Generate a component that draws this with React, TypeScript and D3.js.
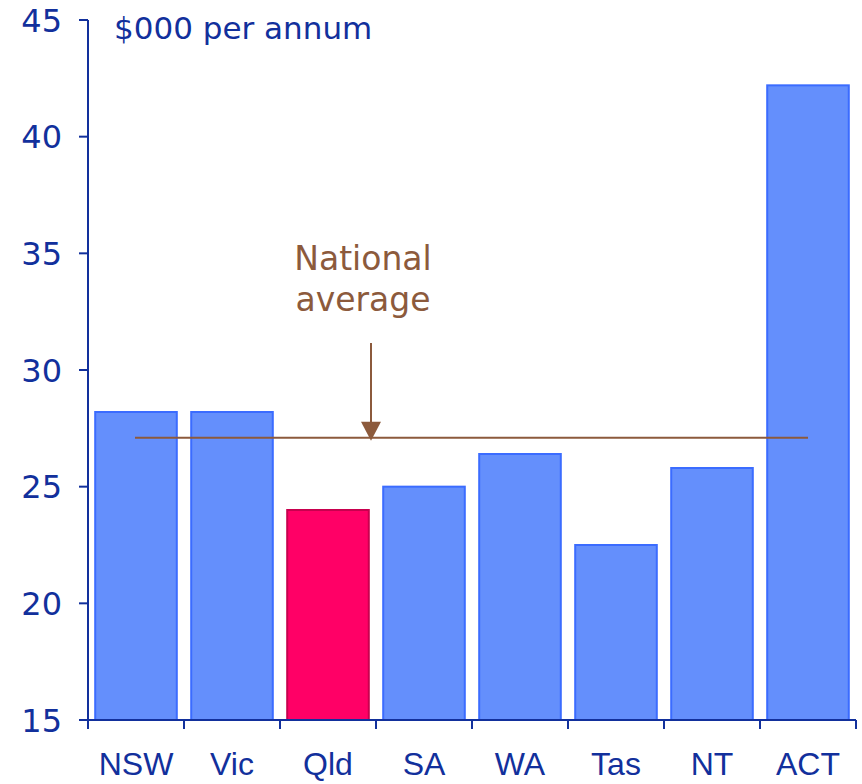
import * as d3 from 'd3';

// states and average income ($000 per annum)
const states = ['NSW', 'Vic', 'Qld', 'SA', 'WA', 'Tas', 'NT', 'ACT'];
const values = [28.2, 28.2, 24.0, 25.0, 26.4, 22.5, 25.8, 42.2];
const highlight = 'Qld';
const nationalAverage = 27.1;
const yTicks = [15, 20, 25, 30, 35, 40, 45];

export default function App() {
  const width = 862;
  const height = 784;
  const axisColor = '#12309c';
  const noteColor = '#8c5a3c';

  const x = d3.scaleBand<string>()
    .domain(states)
    .range([88, 856])
    .paddingInner(0.15)
    .paddingOuter(0.075);

  const y = d3.scaleLinear().domain([15, 45]).range([720, 20]);

  // band edges for the x ticks
  const edges = states.map(s => (x(s) ?? 0) - x.step() * 0.075);
  edges.push(x.range()[1]);

  const avgY = y(nationalAverage);
  const arrowX = 371;

  return (
    <svg
      width={width}
      height={height}
      style={{ position: 'absolute', left: 0, top: 0, background: '#fff' }}
      fontFamily="'DejaVu Sans', Verdana, sans-serif"
    >
      {/* bars */}
      {states.map((s, i) => {
        const hot = s === highlight;
        return (
          <rect
            key={s}
            x={x(s)}
            y={y(values[i])}
            width={x.bandwidth()}
            height={y(15) - y(values[i])}
            fill={hot ? '#ff0066' : '#648ffc'}
            stroke={hot ? '#c8004e' : '#3b6cff'}
            strokeWidth={2}
          />
        );
      })}

      {/* national average line + arrow */}
      <line x1={135} x2={808} y1={avgY} y2={avgY} stroke={noteColor} strokeWidth={2} />
      <line x1={arrowX} x2={arrowX} y1={343} y2={avgY - 14} stroke={noteColor} strokeWidth={2} />
      <path
        d={`M${arrowX - 10},${avgY - 16} L${arrowX + 10},${avgY - 16} L${arrowX},${avgY + 3} Z`}
        fill={noteColor}
      />
      <text x={363} y={270} textAnchor="middle" fontSize={33} fill={noteColor}>National</text>
      <text x={363} y={311} textAnchor="middle" fontSize={33} fill={noteColor}>average</text>

      {/* y axis */}
      <line x1={88} x2={88} y1={y(45)} y2={y(15)} stroke={axisColor} strokeWidth={2} />
      {yTicks.map(t => (
        <g key={t}>
          <line x1={79} x2={88} y1={y(t)} y2={y(t)} stroke={axisColor} strokeWidth={2} />
          <text x={62} y={y(t)} dy="0.36em" textAnchor="end" fontSize={32} fill={axisColor}>{t}</text>
        </g>
      ))}
      <text x={114} y={39} fontSize={31} fill={axisColor}>$000 per annum</text>

      {/* x axis */}
      <line x1={88} x2={856} y1={y(15)} y2={y(15)} stroke={axisColor} strokeWidth={2} />
      {edges.map((e, i) => (
        <line key={i} x1={e} x2={e} y1={y(15)} y2={y(15) + 9} stroke={axisColor} strokeWidth={2} />
      ))}
      {states.map(s => (
        <text
          key={s}
          x={(x(s) ?? 0) + x.bandwidth() / 2}
          y={775}
          textAnchor="middle"
          fontSize={32}
          fontFamily="'Liberation Sans Narrow', 'Arial Narrow', sans-serif"
          fill={axisColor}
        >
          {s}
        </text>
      ))}
    </svg>
  );
}
